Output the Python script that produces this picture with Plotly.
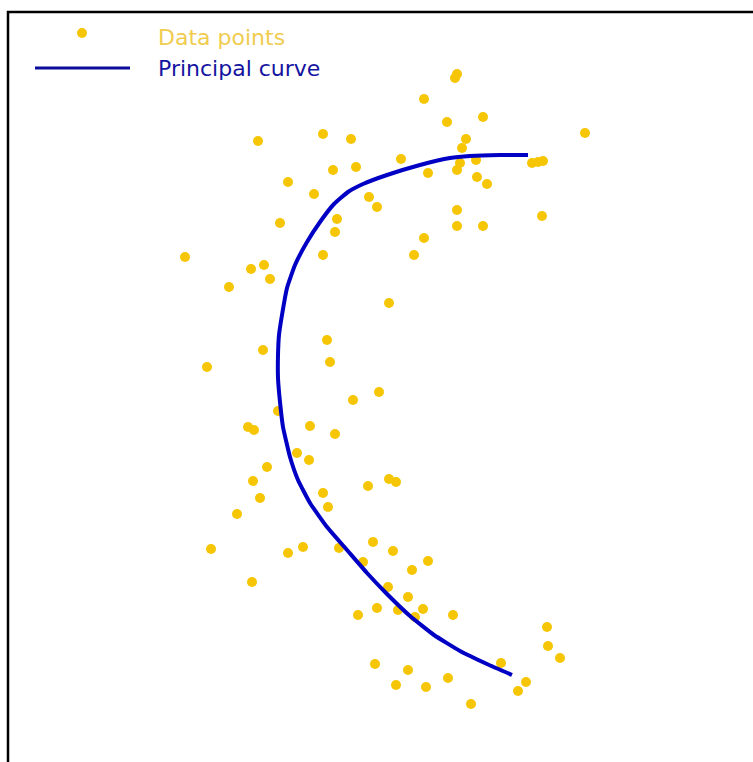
import plotly.graph_objects as go

# Data points (pixel-like units; y grows downward)
pts_x = [258, 323, 351, 424, 447, 462, 401, 333, 356, 428, 457, 288, 314, 369, 377,
         457, 280, 337, 335, 457, 424, 185, 323, 414, 251, 264, 270, 229, 389, 327,
         263, 207, 330, 379, 353, 278, 248, 254, 310, 335, 297, 309, 267, 253, 260,
         368, 389, 396, 237, 323, 328, 211, 288, 303, 339, 373, 393, 428, 363, 412,
         252, 388, 408, 377, 358, 398, 423, 415, 453, 547, 548, 560, 375, 408, 396,
         426, 448, 501, 526, 518, 471, 457, 455, 483, 585, 466, 476, 532, 543, 538,
         477, 487, 483, 542, 460]
pts_y = [141, 134, 139, 99, 122, 148, 159, 170, 167, 173, 170, 182, 194, 197, 207,
         210, 223, 219, 232, 226, 238, 257, 255, 255, 269, 265, 279, 287, 303, 340,
         350, 367, 362, 392, 400, 411, 427, 430, 426, 434, 453, 460, 467, 481, 498,
         486, 479, 482, 514, 493, 507, 549, 553, 547, 548, 542, 551, 561, 562, 570,
         582, 587, 597, 608, 615, 610, 609, 617, 615, 627, 646, 658, 664, 670, 685,
         687, 678, 663, 682, 691, 704, 74, 78, 117, 133, 139, 160, 163, 161, 162,
         177, 184, 226, 216, 163]

# Principal curve
curve_x = [528, 500, 470, 450, 420, 387, 363, 348, 334, 320, 307, 295, 287, 282,
           279, 278, 278, 280, 283, 290, 298, 310, 327, 347, 367, 387, 410, 434, 460,
           487, 512]
curve_y = [155, 155, 156, 158, 165, 175, 184, 192, 204, 222, 242, 265, 288, 315,
           335, 355, 378, 402, 427, 457, 480, 503, 527, 550, 573, 594, 616, 635, 651,
           664, 675]

legend_labels = ["Data points", "Principal curve"]

POINT_COLOR = "#F6C605"
CURVE_COLOR = "#0000C4"

W, H = 753, 762

fig = go.Figure()
fig.add_trace(go.Scatter(
    x=pts_x, y=pts_y, mode="markers", name=legend_labels[0],
    marker=dict(color=POINT_COLOR, size=10, symbol="circle", line=dict(width=0)),
    showlegend=False, hoverinfo="skip",
))
fig.add_trace(go.Scatter(
    x=curve_x, y=curve_y, mode="lines", name=legend_labels[1],
    line=dict(color=CURVE_COLOR, width=4, shape="spline", smoothing=0.4),
    showlegend=False, hoverinfo="skip",
))

# Frame (clipped box: only left and top edges visible), one open path in paper coords
fx, fy = 8 / W, 1 - 12 / H
fig.add_shape(type="path", xref="paper", yref="paper",
              path=f"M {fx} 0 L {fx} {fy} L 1.01 {fy}",
              line=dict(color="black", width=2.5), layer="above")

# Manual legend
fig.add_shape(type="circle", xref="x", yref="y", x0=77, y0=28, x1=87, y1=38,
              fillcolor=POINT_COLOR, line=dict(width=0))
fig.add_shape(type="line", xref="x", yref="y", x0=35, y0=68, x1=130, y1=68,
              line=dict(color="#0C0C9C", width=3))
fig.add_annotation(x=156, y=37, xref="x", yref="y", text=legend_labels[0],
                   showarrow=False, xanchor="left", yanchor="middle",
                   font=dict(family="DejaVu Sans", size=22, color="#F0CC50"))
fig.add_annotation(x=156, y=68, xref="x", yref="y", text=legend_labels[1],
                   showarrow=False, xanchor="left", yanchor="middle",
                   font=dict(family="DejaVu Sans", size=22, color="#1414A0"))

fig.update_layout(
    width=W, height=H,
    margin=dict(l=0, r=0, t=0, b=0),
    paper_bgcolor="white", plot_bgcolor="white",
    xaxis=dict(range=[0, W], visible=False, fixedrange=True),
    yaxis=dict(range=[H, 0], visible=False, fixedrange=True),
    showlegend=False,
    hovermode=False,
)

fig.write_html(
    "out.html", config={"displayModeBar": False},
    post_script=("document.body.style.margin='0';"
                 "document.body.style.overflow='hidden';"
                 "document.documentElement.style.overflow='hidden';"),
)
